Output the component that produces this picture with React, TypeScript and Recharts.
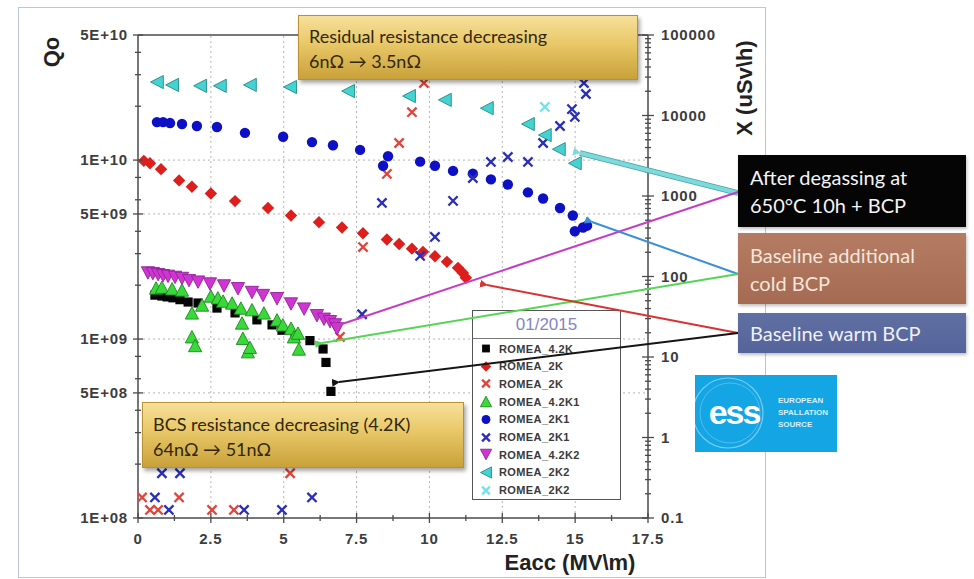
import React from 'react'
import { ScatterChart, Scatter, XAxis, YAxis, ReferenceLine } from 'recharts'

// Eacc (MV/m) and Qo / radiation X (uSv/h)
const eacc42K = [0.58, 0.82, 1.0, 1.2, 1.44, 1.72, 2.06, 2.71, 3.33, 4.08, 4.6, 4.94, 5.39, 5.9, 6.35, 6.45, 6.62]
const qo42K = [1.76e9, 1.74e9, 1.72e9, 1.7e9, 1.66e9, 1.61e9, 1.59e9, 1.49e9, 1.4e9, 1.28e9, 1.2e9, 1.12e9, 1.03e9, 9.8e8, 8.8e8, 7.4e8, 5.1e8]

const eacc2K = [0.2, 0.41, 0.79, 1.41, 1.85, 2.5, 3.33, 4.46, 5.25, 6.21, 7.0, 7.72, 8.54, 8.96, 9.4, 9.78, 10.19, 10.6, 10.98, 11.15, 11.25]
const qo2K = [9.9e9, 9.6e9, 8.9e9, 7.7e9, 7.1e9, 6.5e9, 5.9e9, 5.4e9, 4.9e9, 4.5e9, 4.2e9, 3.9e9, 3.6e9, 3.4e9, 3.2e9, 3.07e9, 2.9e9, 2.7e9, 2.5e9, 2.34e9, 2.2e9]

const eaccX2K = [0.14, 0.41, 0.69, 1.41, 2.54, 3.29, 5.22, 6.93, 7.72, 8.54, 8.96, 9.4, 9.81]
const rad2K = [0.18, 0.126, 0.126, 0.18, 0.126, 0.126, 0.36, 17.7, 232, 1880, 4550, 11000, 25300]

const eacc42K1 = [0.62, 0.82, 1.17, 1.51, 1.85, 1.85, 1.96, 2.2, 2.5, 2.74, 2.92, 3.23, 3.53, 3.57, 3.6, 3.77, 3.84, 3.91, 4.32, 4.77, 4.97, 5.25, 5.35, 5.49, 5.52]
const qo42K1 = [1.93e9, 1.95e9, 1.91e9, 1.88e9, 1.4e9, 1.03e9, 9.2e8, 1.55e9, 1.74e9, 1.7e9, 1.63e9, 1.59e9, 1.49e9, 1.23e9, 1.01e9, 8.5e8, 9.0e8, 1.46e9, 1.4e9, 1.28e9, 1.2e9, 1.15e9, 1.03e9, 1.08e9, 8.8e8]

const eacc2K1 = [0.65, 0.86, 1.1, 1.51, 2.02, 2.71, 3.67, 4.98, 5.97, 6.69, 7.62, 8.58, 8.41, 9.68, 10.19, 10.81, 11.49, 12.11, 12.69, 13.38, 13.9, 14.48, 14.92, 14.99, 15.27, 15.41]
const qo2K1 = [1.63e10, 1.63e10, 1.61e10, 1.59e10, 1.55e10, 1.53e10, 1.42e10, 1.35e10, 1.26e10, 1.21e10, 1.14e10, 1.05e10, 9.3e9, 9.8e9, 9.3e9, 8.7e9, 8.4e9, 7.8e9, 7.3e9, 6.6e9, 6.1e9, 5.4e9, 4.9e9, 4.0e9, 4.2e9, 4.3e9]

const eaccX2K1 = [0.58, 0.82, 1.06, 1.44, 3.64, 4.94, 5.97, 7.69, 8.37, 9.68, 10.19, 10.81, 11.49, 12.11, 12.69, 13.38, 13.9, 14.48, 14.89, 14.99, 15.3, 15.37]
const rad2K1 = [0.18, 0.36, 0.126, 0.36, 0.126, 0.126, 0.18, 34, 820, 180, 310, 870, 1670, 2650, 3050, 2650, 4550, 7400, 12000, 9600, 25300, 18500]

const eacc42K2 = [0.34, 0.51, 0.69, 0.86, 1.03, 1.27, 1.51, 1.75, 2.06, 2.47, 2.95, 3.43, 3.91, 4.29, 4.77, 5.25, 5.7, 6.14, 6.38, 6.59, 6.76, 6.83]
const qo42K2 = [2.34e9, 2.32e9, 2.29e9, 2.26e9, 2.24e9, 2.21e9, 2.18e9, 2.12e9, 2.08e9, 2.03e9, 1.98e9, 1.91e9, 1.82e9, 1.75e9, 1.68e9, 1.57e9, 1.47e9, 1.35e9, 1.29e9, 1.25e9, 1.2e9, 1.14e9]

const eacc2K2 = [0.65, 1.17, 2.13, 2.81, 3.84, 5.22, 7.21, 9.3, 10.53, 11.97, 13.38, 13.96, 14.44, 14.99]
const qo2K2 = [2.73e10, 2.63e10, 2.6e10, 2.6e10, 2.63e10, 2.56e10, 2.43e10, 2.28e10, 2.17e10, 1.95e10, 1.59e10, 1.38e10, 1.15e10, 9.6e9]

const eaccX2K2 = [13.96]
const rad2K2 = [12800]

// axis ticks
const X_MAJOR = [0, 2.5, 5, 7.5, 10, 12.5, 15, 17.5]
const X_LABELS = ['0', '2.5', '5', '7.5', '10', '12.5', '15', '17.5']
const X_MINOR = [1.25, 3.75, 6.25, 8.75, 11.25, 13.75, 16.25]
const X_GRID = [2.5, 5, 7.5, 10, 12.5, 15]

const Q_MAJOR = [1e8, 5e8, 1e9, 5e9, 1e10, 5e10]
const Q_LABELS = ['1E+08', '5E+08', '1E+09', '5E+09', '1E+10', '5E+10']
const Q_MINOR = [2e8, 3e8, 4e8, 6e8, 8e8, 2e9, 3e9, 4e9, 6e9, 8e9, 2e10, 3e10, 4e10]
const Q_GRID = [5e8, 1e9, 5e9, 1e10]

const X_RAD_MAJOR = [0.1, 1, 10, 100, 1000, 10000, 100000]
const X_RAD_LABELS = ['0.1', '1', '10', '100', '1000', '10000', '100000']
const X_RAD_MINOR = [0.2, 0.3, 0.4, 0.5, 0.6, 0.7, 0.8, 0.9, 2, 3, 4, 5, 6, 7, 8, 9, 20, 30, 40, 50, 60, 70, 80, 90,
  200, 300, 400, 500, 600, 700, 800, 900, 2000, 3000, 4000, 5000, 6000, 7000, 8000, 9000,
  20000, 30000, 40000, 50000, 60000, 70000, 80000, 90000]

const pairs = (xs: number[], ys: number[]) => xs.map((x, i) => ({ x, y: ys[i] }))

type Kind = 'square' | 'diamond' | 'x' | 'up' | 'circle' | 'down' | 'left'

const SERIES: { name: string; kind: Kind; fill: string; stroke?: string; axis: string; data: { x: number; y: number }[] }[] = [
  { name: 'ROMEA_4.2K', kind: 'square', fill: '#050505', axis: 'left', data: pairs(eacc42K, qo42K) },
  { name: 'ROMEA_2K', kind: 'diamond', fill: '#dc1f1c', axis: 'left', data: pairs(eacc2K, qo2K) },
  { name: 'ROMEA_2K', kind: 'x', fill: '#e0453c', axis: 'right', data: pairs(eaccX2K, rad2K) },
  { name: 'ROMEA_4.2K1', kind: 'up', fill: '#3ad83a', stroke: '#1c8a1c', axis: 'left', data: pairs(eacc42K1, qo42K1) },
  { name: 'ROMEA_2K1', kind: 'circle', fill: '#0d10c4', axis: 'left', data: pairs(eacc2K1, qo2K1) },
  { name: 'ROMEA_2K1', kind: 'x', fill: '#2b2fb8', axis: 'right', data: pairs(eaccX2K1, rad2K1) },
  { name: 'ROMEA_4.2K2', kind: 'down', fill: '#cf35d2', stroke: '#932296', axis: 'left', data: pairs(eacc42K2, qo42K2) },
  { name: 'ROMEA_2K2', kind: 'left', fill: '#45d2d0', stroke: '#1f8b8a', axis: 'left', data: pairs(eacc2K2, qo2K2) },
  { name: 'ROMEA_2K2', kind: 'x', fill: '#6fe3ee', axis: 'right', data: pairs(eaccX2K2, rad2K2) },
]

function Mark({ kind, fill, stroke, cx, cy, k = 1 }: { kind: Kind; fill: string; stroke?: string; cx: number; cy: number; k?: number }) {
  if (cx == null || cy == null) return null
  const sw = stroke ? 0.9 : 0
  switch (kind) {
    case 'square': {
      const h = 4.6 * k
      return <rect x={cx - h} y={cy - h} width={2 * h} height={2 * h} fill={fill} />
    }
    case 'diamond': {
      const h = 6.2 * k
      return <polygon points={`${cx},${cy - h} ${cx + h},${cy} ${cx},${cy + h} ${cx - h},${cy}`} fill={fill} />
    }
    case 'circle':
      return <circle cx={cx} cy={cy} r={5.2 * k} fill={fill} />
    case 'up': {
      const w = 6.6 * k, h = 6.2 * k
      return <polygon points={`${cx},${cy - h} ${cx + w},${cy + h} ${cx - w},${cy + h}`} fill={fill} stroke={stroke} strokeWidth={sw} />
    }
    case 'down': {
      const w = 6.6 * k, h = 6.2 * k
      return <polygon points={`${cx - w},${cy - h} ${cx + w},${cy - h} ${cx},${cy + h}`} fill={fill} stroke={stroke} strokeWidth={sw} />
    }
    case 'left': {
      const w = 6.6 * k, h = 6.4 * k
      return <polygon points={`${cx - h},${cy} ${cx + h},${cy - w} ${cx + h},${cy + w}`} fill={fill} stroke={stroke} strokeWidth={sw} />
    }
    case 'x': {
      const h = 4.6 * k
      return <path d={`M${cx - h},${cy - h}L${cx + h},${cy + h}M${cx - h},${cy + h}L${cx + h},${cy - h}`} stroke={fill} strokeWidth={2.3} fill="none" />
    }
  }
  return null
}

const tickFont = { fontFamily: '"Liberation Sans", Arial, sans-serif', fontSize: 15, fontWeight: 700, fill: '#3d3d3d', letterSpacing: 0.8 }
const AXIS = '#4a4a4a'

function LeftTick({ x, y, payload }: any) {
  const i = Q_MAJOR.indexOf(payload.value)
  const len = i >= 0 ? 5 : 3
  return (
    <g>
      <line x1={x - len} x2={x + len} y1={y} y2={y} stroke={AXIS} strokeWidth={1.3} />
      {i >= 0 && <text x={x - 10} y={y + 5} textAnchor="end" {...tickFont}>{Q_LABELS[i]}</text>}
    </g>
  )
}

function RightTick({ x, y, payload }: any) {
  const i = X_RAD_MAJOR.indexOf(payload.value)
  const len = i >= 0 ? 6 : 3
  return (
    <g>
      <line x1={x - len} x2={x + len} y1={y} y2={y} stroke={AXIS} strokeWidth={1.3} />
      {i >= 0 && <text x={x + 13} y={y + 5} textAnchor="start" {...tickFont}>{X_RAD_LABELS[i]}</text>}
    </g>
  )
}

function BottomTick({ x, y, payload }: any) {
  const i = X_MAJOR.indexOf(payload.value)
  const len = i >= 0 ? 5 : 3
  return (
    <g>
      <line x1={x} x2={x} y1={y - len} y2={y + len} stroke={AXIS} strokeWidth={1.3} />
      {i >= 0 && <text x={x} y={y + 26} textAnchor="middle" {...tickFont}>{X_LABELS[i]}</text>}
    </g>
  )
}

const goldBox: React.CSSProperties = {
  position: 'absolute',
  background: 'linear-gradient(180deg, #f6e09a 0%, #e8c767 45%, #c9a13a 100%)',
  border: '1px solid #b89232',
  boxShadow: '2px 3px 4px rgba(0,0,0,0.35)',
  color: '#33270c',
  fontFamily: 'Lato, "Open Sans", sans-serif',
  fontSize: 18,
  lineHeight: '25px',
  boxSizing: 'border-box',
}

const sideBox: React.CSSProperties = {
  position: 'absolute',
  left: 738,
  width: 228,
  fontFamily: 'Lato, "Open Sans", sans-serif',
  fontSize: 20,
  lineHeight: '28px',
  boxSizing: 'border-box',
  padding: '0 0 0 12px',
  boxShadow: '1px 2px 3px rgba(0,0,0,0.25)',
}

const ARROWS = [
  { from: [580, 153], to: [738, 193], color: '#7fd9da', w: 4 },
  { from: [342, 324], to: [738, 192], color: '#c43cc4', w: 2 },
  { from: [592, 222], to: [738, 274], color: '#3a8fd6', w: 2 },
  { from: [322, 343], to: [738, 274], color: '#55d455', w: 2 },
  { from: [487, 285], to: [738, 333], color: '#d83232', w: 2 },
  { from: [339, 382], to: [738, 333], color: '#151515', w: 2 },
]

const titleFont: React.CSSProperties = { position: 'absolute', fontFamily: '"Liberation Sans", Arial, sans-serif', fontWeight: 700, color: '#222', whiteSpace: 'nowrap' }

export default function App() {
  return (
    <div style={{ position: 'absolute', left: 0, top: 0, width: 974, height: 579, background: '#fff', overflow: 'hidden' }}>
      {/* slide frame */}
      <div style={{ position: 'absolute', left: 18, top: 7, width: 748, height: 571, border: '1.5px solid #b9c6da', boxSizing: 'border-box' }} />

      <div style={{ position: 'absolute', left: 0, top: 0 }}>
        <ScatterChart width={974} height={579} margin={{ top: 35, right: 246, bottom: 21, left: 58 }}>
          <XAxis type="number" dataKey="x" domain={[0, 17.5]} ticks={[...X_MAJOR, ...X_MINOR].sort((a, b) => a - b)}
            interval={0} tick={<BottomTick />} tickLine={false} tickSize={0} tickMargin={0} height={40}
            axisLine={{ stroke: AXIS, strokeWidth: 1.5 }} allowDataOverflow />
          <YAxis yAxisId="left" type="number" dataKey="y" scale="log" domain={[1e8, 5e10]}
            ticks={[...Q_MAJOR, ...Q_MINOR].sort((a, b) => a - b)} interval={0} tick={<LeftTick />}
            tickLine={false} tickSize={0} tickMargin={0} width={80} axisLine={{ stroke: AXIS, strokeWidth: 1.5 }} allowDataOverflow />
          <YAxis yAxisId="right" orientation="right" type="number" dataKey="y" scale="log" domain={[0.1, 100000]}
            ticks={[...X_RAD_MAJOR, ...X_RAD_MINOR].sort((a, b) => a - b)} interval={0} tick={<RightTick />}
            tickLine={false} tickSize={0} tickMargin={0} width={80} axisLine={{ stroke: AXIS, strokeWidth: 1.5 }} allowDataOverflow />
          {X_GRID.map(v => (
            <ReferenceLine key={'gx' + v} x={v} yAxisId="left" stroke="#b4b4b4" strokeDasharray="2 3" />
          ))}
          {Q_GRID.map(v => (
            <ReferenceLine key={'gy' + v} y={v} yAxisId="left" stroke="#b4b4b4" strokeDasharray="2 3" />
          ))}
          <ReferenceLine y={5e10} yAxisId="left" stroke={AXIS} strokeWidth={1.5} />
          {SERIES.map((s, i) => (
            <Scatter key={i} name={s.name} data={s.data} yAxisId={s.axis} isAnimationActive={false}
              shape={(p: any) => <Mark kind={s.kind} fill={s.fill} stroke={s.stroke} cx={p.cx} cy={p.cy} />} />
          ))}
        </ScatterChart>
      </div>

      {/* axis titles */}
      <div style={{ ...titleFont, left: 52, top: 52, fontSize: 22, transform: 'translate(-50%,-50%) rotate(-90deg)' }}>Qo</div>
      <div style={{ ...titleFont, left: 745, top: 88, fontSize: 22, transform: 'translate(-50%,-50%) rotate(-90deg)' }}>X (uSv\h)</div>
      <div style={{ ...titleFont, left: 570, top: 563, fontSize: 22, transform: 'translate(-50%,-50%)' }}>Eacc (MV\m)</div>

      {/* legend */}
      <div style={{ position: 'absolute', left: 472, top: 310, width: 149, height: 190, border: '1.5px solid #555', background: '#fff', boxSizing: 'border-box' }}>
        <div style={{ height: 27, borderBottom: '1.3px solid #777', textAlign: 'center', fontFamily: '"Liberation Sans", Arial, sans-serif', fontSize: 17, lineHeight: '27px', color: '#8585c4' }}>01/2015</div>
        {SERIES.map((s, i) => (
          <div key={i} style={{ position: 'absolute', left: 0, top: 29 + i * 17.7, height: 17, width: 145, display: 'flex', alignItems: 'center' }}>
            <svg width={26} height={17} style={{ flex: 'none' }}>
              <Mark kind={s.kind} fill={s.fill} stroke={s.stroke} cx={13} cy={8.5} k={0.85} />
            </svg>
            <span style={{ fontFamily: '"Liberation Sans", Arial, sans-serif', fontWeight: 700, fontSize: 11, color: '#3a3a3a', letterSpacing: 0.4 }}>{s.name}</span>
          </div>
        ))}
      </div>

      {/* arrows */}
      <svg width={974} height={579} style={{ position: 'absolute', left: 0, top: 0, pointerEvents: 'none' }}>
        <defs>
          {ARROWS.map((a, i) => (
            <marker key={i} id={'ah' + i} markerWidth={8} markerHeight={8} refX={1} refY={4} orient="auto-start-reverse" markerUnits="userSpaceOnUse">
              <path d="M0,4 L8,0 L8,8 Z" fill={a.color} />
            </marker>
          ))}
        </defs>
        {ARROWS.map((a, i) => (
          <g key={i}>
            {a.w > 2 && <line x1={a.from[0]} y1={a.from[1]} x2={a.to[0]} y2={a.to[1]} stroke="#3fa7a8" strokeWidth={a.w + 1.5} />}
            <line x1={a.from[0]} y1={a.from[1]} x2={a.to[0]} y2={a.to[1]} stroke={a.color} strokeWidth={a.w} markerStart={`url(#ah${i})`} />
          </g>
        ))}
      </svg>

      {/* annotation boxes */}
      <div style={{ ...goldBox, left: 298, top: 15, width: 340, height: 65, padding: '8px 0 0 10px' }}>
        <div>Residual resistance decreasing</div>
        <div>6nΩ → 3.5nΩ</div>
      </div>
      <div style={{ ...goldBox, left: 142, top: 402, width: 322, height: 66, padding: '9px 0 0 10px' }}>
        <div>BCS resistance decreasing (4.2K)</div>
        <div>64nΩ → 51nΩ</div>
      </div>

      <div style={{ ...sideBox, top: 155, height: 72, background: '#050505', color: '#f4f4f4', paddingTop: 8 }}>
        <div>After degassing at</div>
        <div>650°C 10h + BCP</div>
      </div>
      <div style={{ ...sideBox, top: 233, height: 71, background: 'linear-gradient(180deg, #b57c64 0%, #a56a52 100%)', color: '#f3e6da', paddingTop: 8 }}>
        <div>Baseline additional</div>
        <div>cold BCP</div>
      </div>
      <div style={{ ...sideBox, top: 313, height: 40, background: 'linear-gradient(180deg, #6170a2 0%, #54639a 100%)', color: '#f0f0f6', paddingTop: 6 }}>
        <div>Baseline warm BCP</div>
      </div>

      {/* ESS logo */}
      <div style={{ position: 'absolute', left: 695, top: 375, width: 142, height: 77, background: '#14a5e4', overflow: 'hidden' }}>
        <svg width={142} height={77}>
          <circle cx={33} cy={38} r={35} fill="none" stroke="#74cdf2" strokeWidth={1.2} />
          <circle cx={35} cy={38} r={30} fill="none" stroke="#52bdec" strokeWidth={1} />
          <text x={39} y={49} textAnchor="middle" fontFamily='"Liberation Sans", Arial, sans-serif' fontWeight={700} fontSize={34} fill="#fff" letterSpacing={-2}>ess</text>
          <text x={83} y={28} fontFamily='"Liberation Sans", Arial, sans-serif' fontWeight={700} fontSize={8} fill="#d8f0fb">EUROPEAN</text>
          <text x={83} y={40} fontFamily='"Liberation Sans", Arial, sans-serif' fontWeight={700} fontSize={8} fill="#d8f0fb">SPALLATION</text>
          <text x={83} y={52} fontFamily='"Liberation Sans", Arial, sans-serif' fontWeight={700} fontSize={8} fill="#d8f0fb">SOURCE</text>
        </svg>
      </div>
    </div>
  )
}
